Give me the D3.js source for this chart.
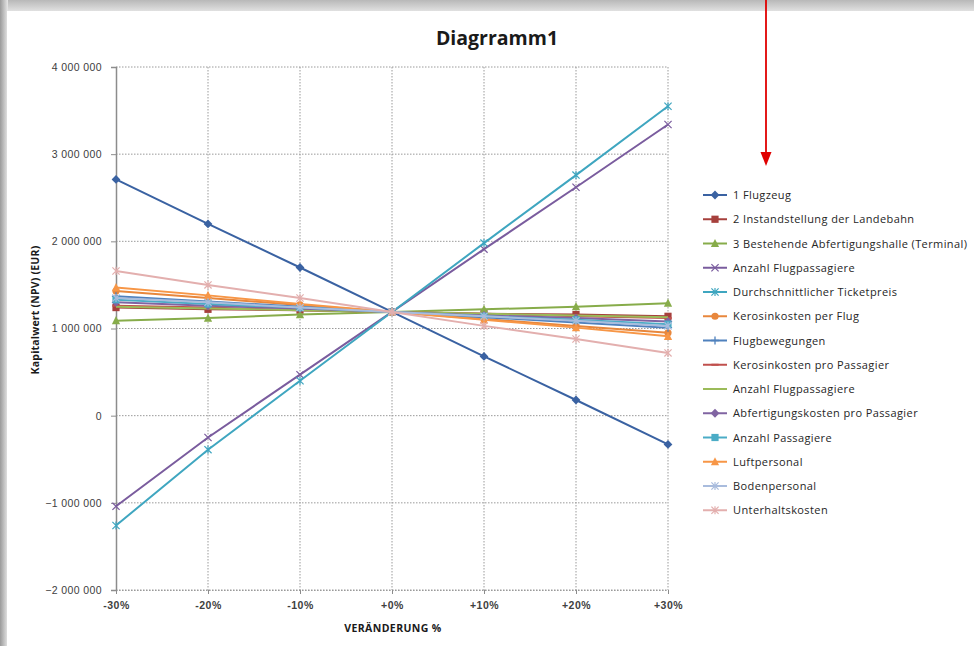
<!DOCTYPE html>
<html><head><meta charset="utf-8">
<script src="https://cdn.jsdelivr.net/npm/d3@7/dist/d3.min.js"></script>
<style>
html,body{margin:0;padding:0;background:#fff;}
svg{display:block;font-family:"Open Sans","Noto Sans","Liberation Sans",sans-serif;}
</style></head>
<body>
<svg id="c" width="974" height="646"></svg>
<script>
const categories = ["-30%","-20%","-10%","+0%","+10%","+20%","+30%"];
const yTicks = [-2000000,-1000000,0,1000000,2000000,3000000,4000000];
const seriesNames = [
  "1 Flugzeug",
  "2 Instandstellung  der Landebahn",
  "3 Bestehende Abfertigungshalle (Terminal)",
  "Anzahl Flugpassagiere",
  "Durchschnittlicher Ticketpreis",
  "Kerosinkosten per Flug",
  "Flugbewegungen",
  "Kerosinkosten pro Passagier",
  "Anzahl Flugpassagiere",
  "Abfertigungskosten pro Passagier",
  "Anzahl Passagiere",
  "Luftpersonal",
  "Bodenpersonal",
  "Unterhaltskosten"
];
const s01 = [2710000, 2200000, 1700000, 1190000, 680000, 180000, -330000];
const s02 = [1240000, 1220000, 1210000, 1190000, 1170000, 1160000, 1140000];
const s03 = [1090000, 1120000, 1160000, 1190000, 1220000, 1250000, 1290000];
const s04 = [-1040000, -250000, 470000, 1190000, 1910000, 2620000, 3340000];
const s05 = [-1260000, -390000, 400000, 1190000, 1980000, 2760000, 3550000];
const s06 = [1430000, 1350000, 1270000, 1190000, 1110000, 1030000, 950000];
const s07 = [1370000, 1310000, 1250000, 1190000, 1130000, 1070000, 1010000];
const s08 = [1260000, 1240000, 1210000, 1190000, 1170000, 1140000, 1120000];
const s09 = [1250000, 1230000, 1210000, 1190000, 1170000, 1150000, 1130000];
const s10 = [1300000, 1260000, 1230000, 1190000, 1150000, 1120000, 1080000];
const s11 = [1330000, 1280000, 1240000, 1190000, 1140000, 1100000, 1050000];
const s12 = [1470000, 1380000, 1280000, 1190000, 1100000, 1010000, 910000];
const s13 = [1350000, 1300000, 1240000, 1190000, 1140000, 1090000, 1030000];
const s14 = [1660000, 1500000, 1350000, 1190000, 1030000, 880000, 720000];
const seriesValues = [s01,s02,s03,s04,s05,s06,s07,s08,s09,s10,s11,s12,s13,s14];
const seriesColors = ["#3A62A2","#A6403C","#87AC4A","#7A5C9E","#3FA6C0","#E8873C","#4F81BD","#C0504D","#9BBB59","#8064A2","#4BACC6","#F79646","#A9BCDD","#E3AFAE"];
const seriesMarkers = ["diamond","square","triangle","x","star","circle","plus","dash","none","diamond","square","triangle","star","star"];

const svg = d3.select("#c");
const defs = svg.append("defs");
const gl = defs.append("linearGradient").attr("id","gl").attr("x1",0).attr("x2",1).attr("y1",0).attr("y2",0);
gl.append("stop").attr("offset",0).attr("stop-color","#9a9a9a");
gl.append("stop").attr("offset",1).attr("stop-color","#e8e8e8");
const gt = defs.append("linearGradient").attr("id","gt").attr("x1",0).attr("x2",0).attr("y1",0).attr("y2",1);
gt.append("stop").attr("offset",0).attr("stop-color","#b8b8b8");
gt.append("stop").attr("offset",1).attr("stop-color","#e4e4e4");
svg.append("rect").attr("x",0).attr("y",0).attr("width",974).attr("height",12).attr("fill","url(#gt)");
svg.append("rect").attr("x",0).attr("y",0).attr("width",8).attr("height",646).attr("fill","url(#gl)");
svg.append("rect").attr("x",7).attr("y",11).attr("width",967).attr("height",635).attr("fill","#fff");

const x = d3.scalePoint().domain(categories).range([116,668]);
const y = d3.scaleLinear().domain([-2000000,4000000]).range([590,67]);

const grid = svg.append("g");
grid.selectAll("line.h").data(yTicks).join("line")
  .attr("x1",116).attr("x2",668).attr("y1",d=>y(d)).attr("y2",d=>y(d))
  .attr("stroke","#9a9a9a").attr("stroke-width",1).attr("stroke-dasharray","1.5,1.5");
grid.selectAll("line.v").data(categories.slice(1)).join("line")
  .attr("x1",d=>x(d)).attr("x2",d=>x(d)).attr("y1",67).attr("y2",590)
  .attr("stroke","#9a9a9a").attr("stroke-width",1).attr("stroke-dasharray","1.5,1.5");

const fmt = d => d3.format(",")(d).replace(/,/g," ");
const yAxis = svg.append("g").attr("transform","translate(116,0)")
  .call(d3.axisLeft(y).tickValues(yTicks).tickFormat(fmt).tickSize(5).tickPadding(9));
yAxis.select(".domain").attr("stroke","#8c8c8c").attr("stroke-width",1.5);
yAxis.selectAll(".tick line").attr("stroke","#8c8c8c");
yAxis.selectAll("text").attr("font-size",10.5).attr("letter-spacing",0.4).attr("fill","#404040");

const xAxis = svg.append("g").attr("transform","translate(0,590)")
  .call(d3.axisBottom(x).tickSize(4).tickPadding(8));
xAxis.select(".domain").attr("stroke","#9a9a9a").attr("stroke-dasharray","1.5,1.5");
xAxis.selectAll(".tick line").attr("stroke","#8c8c8c");
xAxis.selectAll("text").attr("font-size",10.5).attr("letter-spacing",0.5).attr("font-weight","bold").attr("fill","#404040");

svg.append("text").attr("x",497).attr("y",45).attr("text-anchor","middle")
  .attr("font-size",19.5).attr("font-weight","bold").attr("fill","#1a1a1a").text("Diagrramm1");
svg.append("text").attr("x",393).attr("y",632).attr("text-anchor","middle")
  .attr("font-size",10.5).attr("letter-spacing",0.4).attr("font-weight","bold").attr("fill","#1a1a1a").text("VERÄNDERUNG %");
svg.append("text").attr("transform","translate(39,310) rotate(-90)").attr("text-anchor","middle")
  .attr("font-size",10.5).attr("letter-spacing",0.2).attr("font-weight","bold").attr("fill","#1a1a1a").text("Kapitalwert (NPV) (EUR)");

function marker(g, type, cx, cy, color){
  const s = 3.6;
  if(type==="diamond") g.append("path").attr("d",`M${cx},${cy-s-0.8}L${cx+s+0.8},${cy}L${cx},${cy+s+0.8}L${cx-s-0.8},${cy}Z`).attr("fill",color);
  else if(type==="square") g.append("rect").attr("x",cx-s).attr("y",cy-s).attr("width",2*s).attr("height",2*s).attr("fill",color);
  else if(type==="triangle") g.append("path").attr("d",`M${cx},${cy-s-1}L${cx+s+0.5},${cy+s}L${cx-s-0.5},${cy+s}Z`).attr("fill",color);
  else if(type==="circle") g.append("circle").attr("cx",cx).attr("cy",cy).attr("r",s).attr("fill",color);
  else if(type==="x") g.append("path").attr("d",`M${cx-s},${cy-s}L${cx+s},${cy+s}M${cx-s},${cy+s}L${cx+s},${cy-s}`).attr("stroke",color).attr("stroke-width",1.2);
  else if(type==="star") g.append("path").attr("d",`M${cx-s},${cy-s}L${cx+s},${cy+s}M${cx-s},${cy+s}L${cx+s},${cy-s}M${cx},${cy-s-0.5}L${cx},${cy+s+0.5}`).attr("stroke",color).attr("stroke-width",1.2);
  else if(type==="plus") g.append("path").attr("d",`M${cx-s-0.5},${cy}L${cx+s+0.5},${cy}M${cx},${cy-s-0.5}L${cx},${cy+s+0.5}`).attr("stroke",color).attr("stroke-width",1.3);
  else if(type==="dash") g.append("path").attr("d",`M${cx-s},${cy}L${cx+s},${cy}`).attr("stroke",color).attr("stroke-width",2);
}

const line = d3.line().x((d,i)=>x(categories[i])).y(d=>y(d));
const plot = svg.append("g");
seriesValues.forEach((vals,k)=>{
  const g = plot.append("g");
  g.append("path").attr("d",line(vals)).attr("fill","none").attr("stroke",seriesColors[k]).attr("stroke-width",2);
  vals.forEach((v,i)=>marker(g, seriesMarkers[k], x(categories[i]), y(v), seriesColors[k]));
});

const leg = svg.append("g");
seriesNames.forEach((n,k)=>{
  const ly = 195 + k*24.25;
  const g = leg.append("g");
  g.append("line").attr("x1",703).attr("x2",727).attr("y1",ly).attr("y2",ly).attr("stroke",seriesColors[k]).attr("stroke-width",2);
  marker(g, seriesMarkers[k], 715, ly, seriesColors[k]);
  g.append("text").attr("x",733).attr("y",ly+4).attr("font-size",11).attr("letter-spacing",0.4).attr("fill","#262626").text(n);
});

svg.append("line").attr("x1",766).attr("x2",766).attr("y1",0).attr("y2",154).attr("stroke","#e00000").attr("stroke-width",1.8);
svg.append("path").attr("d","M760.5,152L771.5,152L766,166Z").attr("fill","#e00000");
</script>
</body></html>
